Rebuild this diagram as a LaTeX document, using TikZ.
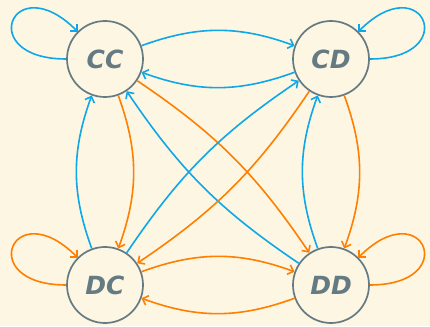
\documentclass[tikz,border=0pt]{standalone}
\usepackage{fontspec}
\newfontfamily\statefont{DejaVu Sans}
\usetikzlibrary{arrows.meta,positioning}
\definecolor{bgcream}{HTML}{FDF6E3}
\definecolor{stategray}{HTML}{657B83}
\definecolor{coopblue}{HTML}{0EA8E8}
\definecolor{defectorange}{HTML}{FF7F00}

\begin{document}
\begin{tikzpicture}[x=1pt,y=1pt,node distance= 226pt,
    >={Straight Barb[length=5pt,width=10pt]}]
      \fill[bgcream] (0,0) rectangle (430,326);
      \useasboundingbox (0,0) rectangle (430,326);
      \begin{scope}[every node/.style={circle,draw=stategray,line width=1.7pt,
          minimum size=76pt,text=stategray,
          font=\statefont\bfseries\itshape\fontsize{25}{25}\selectfont}]
        \node (CC) at (105,267) {CC};
        \node (CD) [right of= CC] {CD};
        \node (DC) [below of= CC] {DC};
        \node (DD) [right of= DC] {DD};
      \end{scope}
      \begin{scope}
        [every edge/.style={draw, line width=1.6pt, ->},
        every loop/.style={}]
        \path (CC) edge[coopblue, bend left=20] (CD);
        \path (CD) edge[coopblue, bend left=20] (CC);
        \path (CC) edge[defectorange, bend left=20] (DC);
        \path (DC) edge[coopblue, bend left=20] (CC);
        \path (CD) edge[defectorange, bend left=20] (DD);
        \path (DD) edge[coopblue, bend left=20] (CD);
        \path (DC) edge[defectorange, bend left=20] (DD);
        \path (DD) edge[defectorange, bend left=20] (DC);
        \path (CC) edge[defectorange, bend left=11] (DD);
        \path (DD) edge[coopblue, bend left=11] (CC);
        \path (CD) edge[defectorange, bend left=11] (DC);
        \path (DC) edge[coopblue, bend left=11] (CD);
        \path (CC) edge[coopblue, loop, out=180, in=135, distance=92pt] (CC);
        \path (CD) edge[coopblue, loop, out=0, in=45, distance=92pt] (CD);
        \path (DC) edge[defectorange, loop, out=180, in=135, distance=92pt] (DC);
        \path (DD) edge[defectorange, loop, out=0, in=45, distance=92pt] (DD);
      \end{scope}
    \end{tikzpicture}
\end{document}
